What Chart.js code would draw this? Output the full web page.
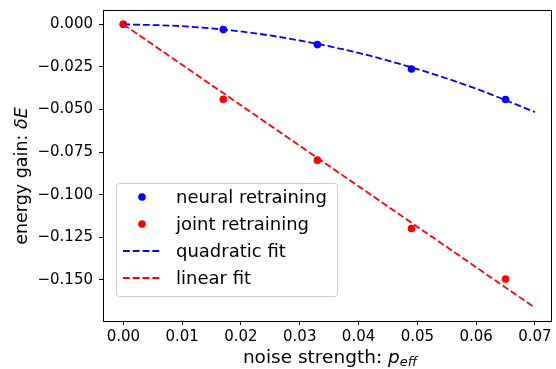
<!DOCTYPE html>
<html>
<head>
<meta charset="utf-8">
<script src="https://cdn.jsdelivr.net/npm/chart.js@4.4.0/dist/chart.umd.min.js"></script>
<style>
  html, body { margin: 0; padding: 0; background: #fff; }
  #wrap { width: 556px; height: 369px; }
</style>
</head>
<body>
<div id="wrap"><canvas id="myChart" width="556" height="369"></canvas></div>
<script>
// measured points
var noiseLevels = [0, 0.017, 0.033, 0.049, 0.065];
var neuralGain = [0, -0.0031, -0.0119, -0.0262, -0.0441];
var jointGain = [0, -0.0440, -0.0797, -0.1198, -0.1495];

// fit curves
var quadX = [0, 0.01, 0.02, 0.03, 0.04, 0.05, 0.06, 0.07];
var quadY = [0, -0.0011, -0.0042, -0.0095, -0.0168, -0.0263, -0.0378, -0.0515];
var linX = [0, 0.07];
var linY = [0, -0.1663];

var xTicks = [0, 0.01, 0.02, 0.03, 0.04, 0.05, 0.06, 0.07];
var yTicks = [0, -0.025, -0.05, -0.075, -0.1, -0.125, -0.15];
var seriesNames = ["neural retraining", "joint retraining", "quadratic fit", "linear fit"];

function pts(xs, ys) {
  return xs.map(function (x, i) { return {x: x, y: ys[i]}; });
}

var FONT = "'DejaVu Sans', sans-serif";
var DASH = [6.8, 3];

// frame, legend and axis titles (matplotlib style)
var extras = {
  id: "extras",
  afterDraw: function (chart) {
    var ctx = chart.ctx;
    var a = chart.chartArea;
    ctx.save();
    ctx.strokeStyle = "#000";
    ctx.lineWidth = 1;
    ctx.strokeRect(Math.round(a.left) + 0.5, Math.round(a.top) + 0.5,
      Math.round(a.right - a.left) - 1, Math.round(a.bottom - a.top));

    // legend box
    var lx = 116, ly = 183, lw = 221, lh = 113;
    ctx.beginPath();
    ctx.roundRect(lx + 0.5, ly + 0.5, lw, lh, 3);
    ctx.fillStyle = "rgba(255,255,255,0.8)";
    ctx.fill();
    ctx.strokeStyle = "#cccccc";
    ctx.stroke();

    var rows = [197, 224, 251, 278];
    var ds = chart.data.datasets;
    ctx.font = "18px " + FONT;
    ctx.textBaseline = "middle";
    ctx.textAlign = "left";
    for (var i = 0; i < ds.length; i++) {
      var y = rows[i];
      if (ds[i].showLine) {
        ctx.strokeStyle = ds[i].borderColor;
        ctx.lineWidth = 1.8;
        ctx.setLineDash(DASH);
        ctx.beginPath();
        ctx.moveTo(123, y);
        ctx.lineTo(161, y);
        ctx.stroke();
        ctx.setLineDash([]);
      } else {
        ctx.fillStyle = ds[i].backgroundColor;
        ctx.beginPath();
        ctx.arc(142, y, 3.8, 0, Math.PI * 2);
        ctx.fill();
      }
      ctx.fillStyle = "#000";
      ctx.fillText(ds[i].label, 176, y + 1);
    }

    // x title
    ctx.textBaseline = "alphabetic";
    var xa = "noise strength: ";
    ctx.font = "18.5px " + FONT;
    var w1 = ctx.measureText(xa).width;
    ctx.font = "italic 18.5px " + FONT;
    var w2 = ctx.measureText("p").width;
    ctx.font = "italic 13px " + FONT;
    var w3 = ctx.measureText("eff").width;
    var x0 = 330 - (w1 + w2 + w3) / 2;
    var by = 363;
    ctx.font = "18.5px " + FONT;
    ctx.fillText(xa, x0, by);
    ctx.font = "italic 18.5px " + FONT;
    ctx.fillText("p", x0 + w1, by);
    ctx.font = "italic 13px " + FONT;
    ctx.fillText("eff", x0 + w1 + w2, by + 3);

    // y title
    ctx.save();
    ctx.translate(27, 176);
    ctx.rotate(-Math.PI / 2);
    var ya = "energy gain: ";
    ctx.font = "17.5px " + FONT;
    var v1 = ctx.measureText(ya).width;
    ctx.font = "italic 17.5px " + FONT;
    var v2 = ctx.measureText("\u03b4E").width;
    var s = -(v1 + v2) / 2;
    ctx.font = "17.5px " + FONT;
    ctx.fillText(ya, s, 0);
    ctx.font = "italic 17.5px " + FONT;
    ctx.fillText("\u03b4E", s + v1, 0);
    ctx.restore();

    ctx.restore();
  }
};

new Chart("myChart", {
  type: "scatter",
  data: {
    datasets: [{
      label: seriesNames[0],
      data: pts(noiseLevels, neuralGain),
      backgroundColor: "blue",
      borderColor: "blue",
      pointRadius: 3.8,
      pointBorderWidth: 0,
      order: 4
    }, {
      label: seriesNames[1],
      data: pts(noiseLevels, jointGain),
      backgroundColor: "red",
      borderColor: "red",
      pointRadius: 3.8,
      pointBorderWidth: 0,
      order: 3
    }, {
      label: seriesNames[2],
      data: pts(quadX, quadY),
      showLine: true,
      cubicInterpolationMode: "monotone",
      borderColor: "blue",
      backgroundColor: "blue",
      borderWidth: 1.8,
      borderDash: DASH,
      pointRadius: 0,
      order: 2
    }, {
      label: seriesNames[3],
      data: pts(linX, linY),
      showLine: true,
      borderColor: "red",
      backgroundColor: "red",
      borderWidth: 1.8,
      borderDash: DASH,
      pointRadius: 0,
      order: 1
    }]
  },
  options: {
    responsive: false,
    animation: false,
    devicePixelRatio: 1,
    layout: {padding: {top: 10, right: 1, left: 0, bottom: 0}},
    plugins: {legend: {display: false}, tooltip: {enabled: false}},
    scales: {
      x: {
        type: "linear",
        min: -0.00346,
        max: 0.0729,
        afterBuildTicks: function (s) { s.ticks = xTicks.map(function (v) { return {value: v}; }); },
        afterFit: function (s) { s.height = 48; s.paddingLeft = 0; s.paddingRight = 0; },
        grid: {drawOnChartArea: false, drawTicks: true, tickLength: 4, tickColor: "#000", tickWidth: 1},
        border: {display: false},
        ticks: {
          color: "#000", padding: 3, maxRotation: 0, autoSkip: false,
          font: {family: FONT, size: 15},
          callback: function (v) { return v.toFixed(2); }
        }
      },
      y: {
        type: "linear",
        min: -0.1741,
        max: 0.0084,
        afterBuildTicks: function (s) { s.ticks = yTicks.map(function (v) { return {value: v}; }); },
        afterFit: function (s) { s.width = 103; s.paddingTop = 0; s.paddingBottom = 0; },
        grid: {drawOnChartArea: false, drawTicks: true, tickLength: 4, tickColor: "#000", tickWidth: 1},
        border: {display: false},
        ticks: {
          color: "#000", padding: 6, autoSkip: false,
          font: {family: FONT, size: 15},
          callback: function (v) { return (v < 0 ? "\u2212" : "") + Math.abs(v).toFixed(3); }
        }
      }
    }
  },
  plugins: [extras]
});
</script>
</body>
</html>
